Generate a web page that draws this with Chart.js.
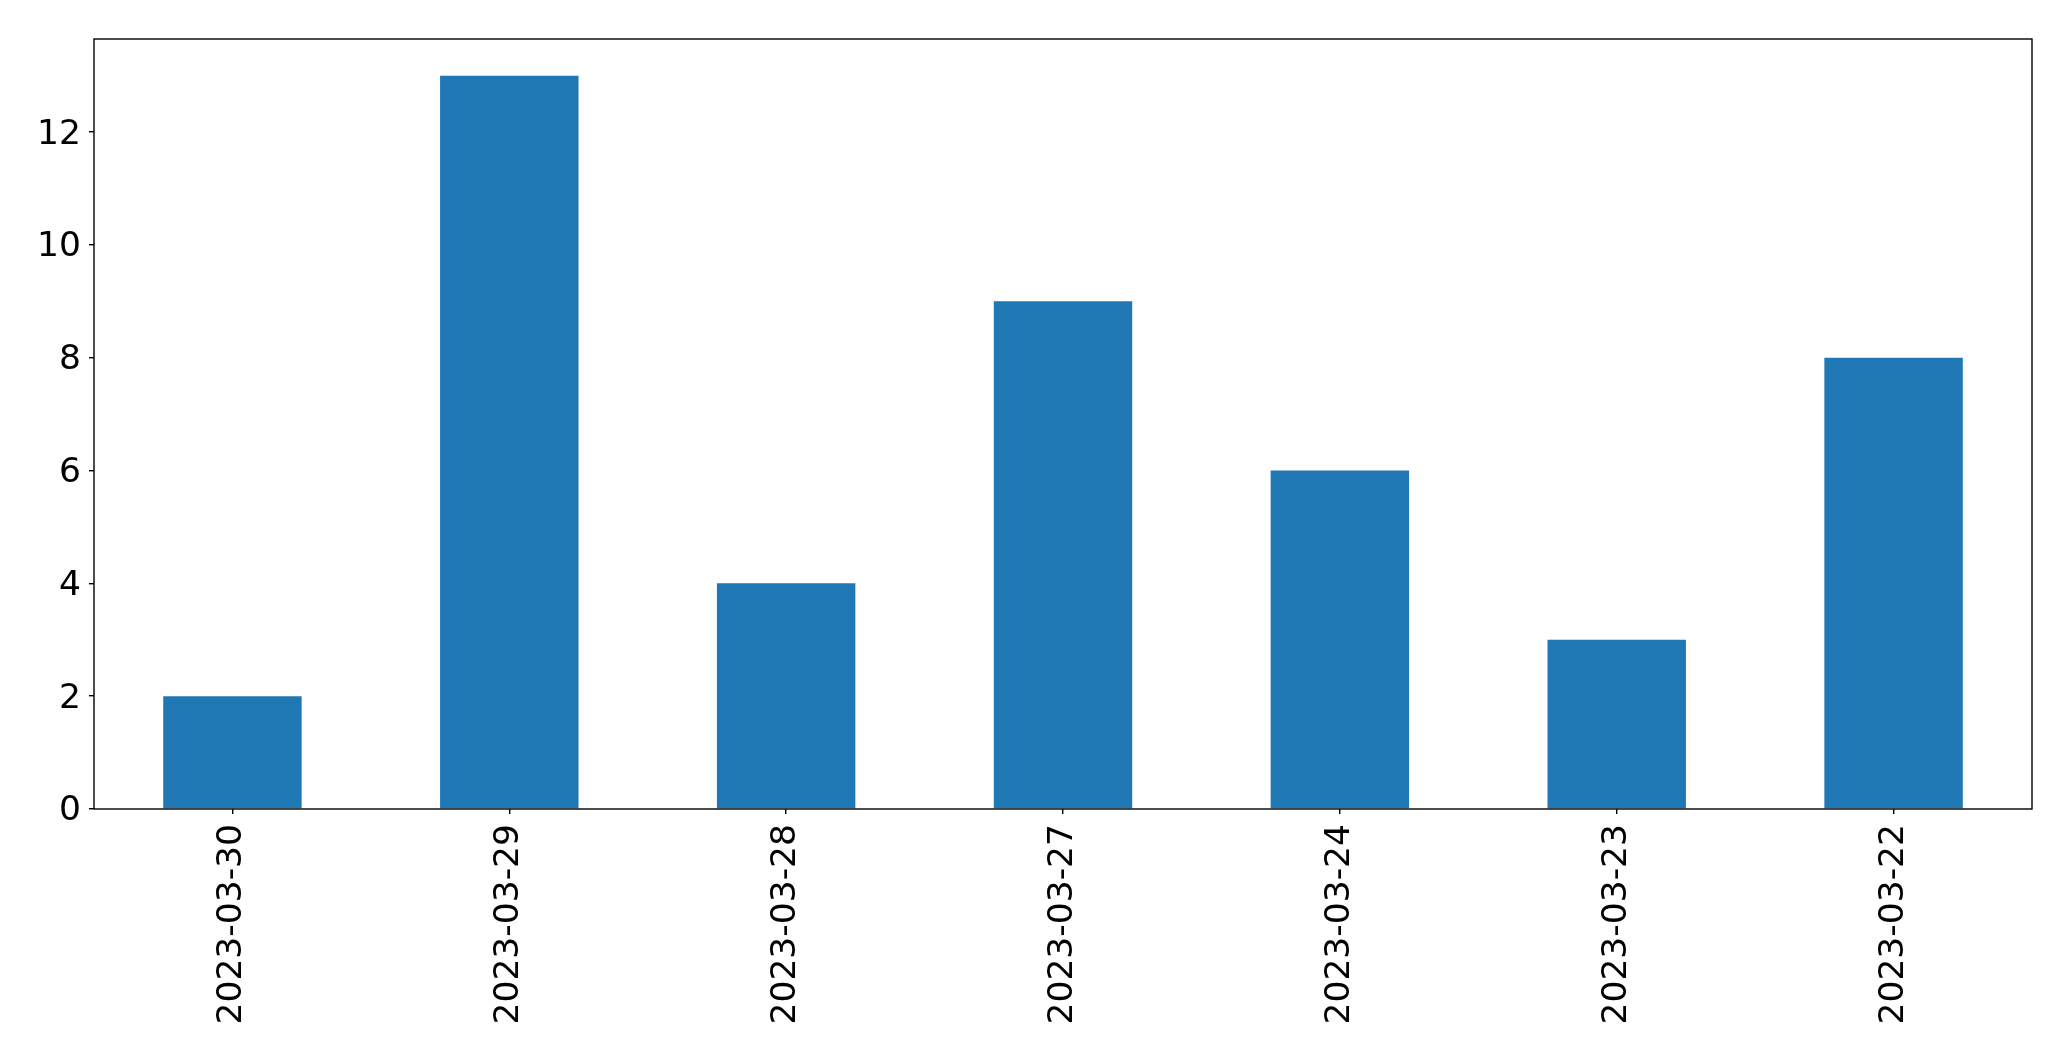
<!DOCTYPE html>
<html>
<head>
<meta charset="utf-8">
<script src="https://cdn.jsdelivr.net/npm/chart.js@4/dist/chart.umd.min.js"></script>
<style>
  html, body { margin: 0; padding: 0; background: #fff; }
  canvas { display: block; }
</style>
</head>
<body>
<canvas id="myChart" width="2071" height="1061"></canvas>
<script>
// data
const dates = ['2023-03-30', '2023-03-29', '2023-03-28', '2023-03-27', '2023-03-24', '2023-03-23', '2023-03-22'];
const counts = [2, 13, 4, 9, 6, 3, 8];
const yTicks = [0, 2, 4, 6, 8, 10, 12];

const tickFont = { family: 'DejaVu Sans', size: 34.5 };

// matplotlib style frame around the plot area
const frame = {
    id: 'frame',
    afterDraw(chart) {
        const a = chart.chartArea;
        const ctx = chart.ctx;
        ctx.save();
        ctx.strokeStyle = '#000';
        ctx.lineWidth = 1.4;
        ctx.strokeRect(a.left, a.top, a.right - a.left, a.bottom - a.top);
        ctx.restore();
    }
};

new Chart(document.getElementById('myChart'), {
    type: 'bar',
    data: {
        labels: dates,
        datasets: [{
            data: counts,
            backgroundColor: '#1f77b4',
            borderWidth: 0,
            categoryPercentage: 1,
            barPercentage: 0.5
        }]
    },
    options: {
        responsive: false,
        animation: false,
        events: [],
        layout: { padding: { top: 39, right: 39, left: 0, bottom: 0 } },
        plugins: {
            legend: { display: false },
            tooltip: { enabled: false }
        },
        scales: {
            x: {
                offset: true,
                grid: { display: true, offset: false, drawOnChartArea: false, drawTicks: true, tickLength: 5, color: '#000', lineWidth: 1.4 },
                border: { display: false },
                ticks: {
                    color: '#000',
                    font: tickFont,
                    minRotation: 90,
                    maxRotation: 90,
                    padding: 10,
                    autoSkip: false
                },
                afterFit(scale) { scale.height = 252; }
            },
            y: {
                min: 0,
                max: 13.65,
                grid: { display: true, drawOnChartArea: false, drawTicks: true, tickLength: 5, color: '#000', lineWidth: 1.4 },
                border: { display: false },
                ticks: {
                    color: '#000',
                    font: tickFont,
                    padding: 8,
                    labelOffset: 2.5
                },
                afterBuildTicks(scale) {
                    scale.ticks = yTicks.map(v => ({ value: v }));
                },
                afterFit(scale) { scale.width = 94; }
            }
        }
    },
    plugins: [frame]
});
</script>
</body>
</html>
